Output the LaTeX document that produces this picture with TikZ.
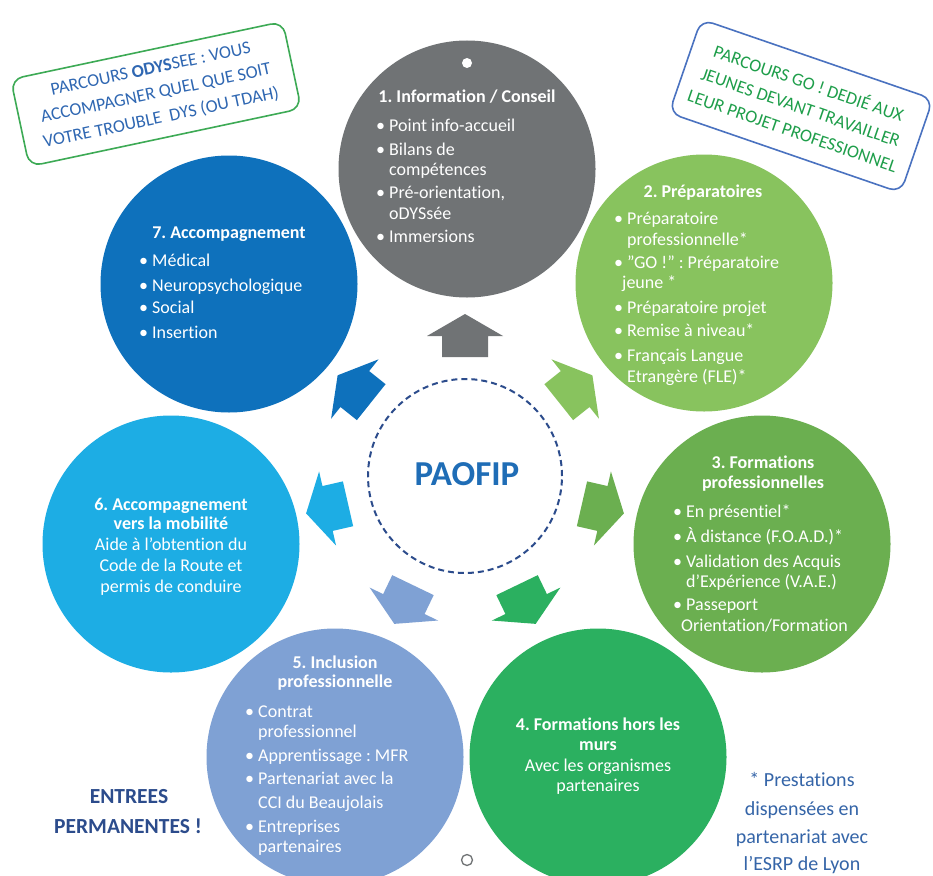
\documentclass[tikz,border=0pt]{standalone}
\usepackage{fontspec}
\setmainfont{Carlito}[Ligatures=NoCommon]
\definecolor{cgrey}{HTML}{707375}
\definecolor{cgreenl}{HTML}{88C35E}
\definecolor{cgreend}{HTML}{6BAF50}
\definecolor{cgreen}{HTML}{2BB060}
\definecolor{clav}{HTML}{7FA1D4}
\definecolor{cblue}{HTML}{1DADE4}
\definecolor{cblued}{HTML}{0E71BC}
\definecolor{navy}{HTML}{2C4C8C}
\definecolor{paoblue}{HTML}{1F6DB6}
\definecolor{boxgreen}{HTML}{3DAA55}
\definecolor{boxblue}{HTML}{4A72C0}
\definecolor{txtblue}{HTML}{2F67B2}
\definecolor{txtgreen}{HTML}{1E9E4A}
\definecolor{noteblue}{HTML}{3565A8}
\newcommand\bu{\llap{\textbullet\hspace{4pt}}}
\frenchspacing
\begin{document}
\begin{tikzpicture}[x=1pt,y=-1pt,
  bub/.style={circle,inner sep=0pt,minimum size=257pt},
  tl/.style={anchor=base west,inner sep=0pt,text=white,font=\fontsize{18}{21}\selectfont},
  th/.style={anchor=base,inner sep=0pt,text=white,font=\fontsize{18}{21}\selectfont\bfseries},
  tc/.style={anchor=base,inner sep=0pt,text=white,font=\fontsize{18}{21}\selectfont},
  callout/.style={rounded corners=12pt,line width=1.6pt,inner sep=0pt,align=center,font=\fontsize{18}{25}\selectfont},
  side/.style={anchor=base,inner sep=0pt,font=\fontsize{20}{24}\selectfont}]
\path[use as bounding box,clip] (0,0) rectangle (933,875);
\fill[white] (0,0) rectangle (933,875);

% circles
\node[bub,fill=cgrey]   (c1) at (467,169) {};
\node[bub,fill=cgreenl] (c2) at (704,283) {};
\node[bub,fill=cgreend] (c3) at (762,544) {};
\node[bub,fill=cgreen]  (c4) at (598,757) {};
\node[bub,fill=clav]    (c5) at (335,757) {};
\node[bub,fill=cblue]   (c6) at (171,544) {};
\node[bub,fill=cblued]  (c7) at (229,284) {};

% handles
\node[circle,fill=white,inner sep=0pt,minimum size=10pt] (h1) at (467,63) {};
\node[circle,draw=cgrey,line width=1.3pt,fill=white,inner sep=0pt,minimum size=11pt] (h2) at (467,860) {};

% central dashed circle
\node[circle,draw=navy,line width=2pt,dash pattern=on 6pt off 4pt,inner sep=0pt,minimum size=194pt] (ctr) at (465,476) {};
\node[anchor=base,inner sep=0pt,text=paoblue,font=\fontsize{35}{40}\selectfont\bfseries] (pao) at (467,485) {PAOFIP};

% arrows
\foreach \a/\c in {90/cgrey,38.6/cgreenl,-12.9/cgreend,-64.3/cgreen,-115.7/clav,192.9/cblue,141.4/cblued}{
  \fill[\c,shift={(465,477)},rotate=\a] (120,-23) -- (141,-23) -- (141,-38) -- (163,0) -- (141,38) -- (141,23) -- (120,23) -- cycle;
}

% circle 1
\node[th] (t1) at (467,102) {1. Information / Conseil};
\node[tl] (t1a) at (389,131) {\bu Point info-accueil};
\node[tl] (t1b) at (389,155) {\bu Bilans de};
\node[tl] (t1c) at (389,175) {compétences};
\node[tl] (t1d) at (389,198) {\bu Pré-orientation,};
\node[tl] (t1e) at (389,219) {oDYSsée};
\node[tl] (t1f) at (389,242) {\bu Immersions};

% circle 2
\node[th] (t2) at (703,197) {2. Préparatoires};
\node[tl] (t2a) at (627,224) {\bu Préparatoire};
\node[tl] (t2b) at (627,245) {professionnelle*};
\node[tl] (t2c) at (627,268) {\bu "GO !" : Préparatoire};
\node[tl] (t2d) at (622,288) {jeune *};
\node[tl] (t2e) at (627,313) {\bu Préparatoire projet};
\node[tl] (t2f) at (627,336) {\bu Remise à niveau*};
\node[tl] (t2g) at (627,361) {\bu Français Langue};
\node[tl] (t2h) at (627,382) {Etrangère (FLE)*};

% circle 3
\node[th] (t3) at (763,468) {3. Formations};
\node[th] (t3x) at (763,488) {professionnelles};
\node[tl] (t3a) at (686,517) {\bu En présentiel*};
\node[tl] (t3b) at (686,542) {\bu À distance (F.O.A.D.)*};
\node[tl] (t3c) at (686,567) {\bu Validation des Acquis};
\node[tl] (t3d) at (686,587) {d’Expérience (V.A.E.)};
\node[tl] (t3e) at (686,610) {\bu Passeport};
\node[tl] (t3f) at (681,631) {Orientation/Formation};

% circle 4
\node[th] (t4) at (598,730) {4. Formations hors les};
\node[th] (t4x) at (598,750) {murs};
\node[tc] (t4a) at (598,771) {Avec les organismes};
\node[tc] (t4b) at (598,791) {partenaires};

% circle 5
\node[th] (t5) at (335,668) {5. Inclusion};
\node[th] (t5x) at (335,687) {professionnelle};
\node[tl] (t5a) at (258,717) {\bu Contrat};
\node[tl] (t5b) at (258,737) {professionnel};
\node[tl] (t5c) at (258,761) {\bu Apprentissage : MFR};
\node[tl] (t5d) at (258,784) {\bu Partenariat avec la};
\node[tl] (t5e) at (258,808) {CCI du Beaujolais};
\node[tl] (t5f) at (258,832) {\bu Entreprises};
\node[tl] (t5g) at (258,852) {partenaires};

% circle 6
\node[th] (t6) at (171,510) {6. Accompagnement};
\node[th] (t6x) at (171,529) {vers la mobilité};
\node[tc] (t6a) at (171,550) {Aide à l’obtention du};
\node[tc] (t6b) at (171,571) {Code de la Route et};
\node[tc] (t6c) at (171,592) {permis de conduire};

% circle 7
\node[th] (t7) at (229,238) {7. Accompagnement};
\node[tl] (t7a) at (152,266) {\bu Médical};
\node[tl] (t7b) at (152,291) {\bu Neuropsychologique};
\node[tl] (t7c) at (152,313) {\bu Social};
\node[tl] (t7d) at (152,338) {\bu Insertion};

% callouts
\node[callout,draw=boxgreen,text=txtblue,rotate=12,minimum width=278pt,minimum height=89pt] (odb) at (156,94)
  {PARCOURS \textbf{ODYS}SEE : VOUS\\ACCOMPAGNER QUEL QUE SOIT\\VOTRE TROUBLE\ \ DYS (OU TDAH)};
\node[callout,draw=boxblue,text=txtgreen,rotate=-19,minimum width=245pt,minimum height=99pt] (gob) at (801,106)
  {PARCOURS GO ! DEDIÉ AUX\\JEUNES DEVANT TRAVAILLER\\LEUR PROJET PROFESSIONNEL};

% side texts
\node[side,text=navy,font=\fontsize{21.5}{24}\selectfont\bfseries] (ent1) at (129,803) {ENTREES};
\node[side,text=navy,font=\fontsize{21.5}{24}\selectfont\bfseries] (ent2) at (128,833) {PERMANENTES !};
\node[side,text=noteblue] (n1) at (802,786) {* Prestations};
\node[side,text=noteblue] (n2) at (802,815) {dispensées en};
\node[side,text=noteblue] (n3) at (802,843) {partenariat avec};
\node[side,text=noteblue] (n4) at (802,870) {l’ESRP de Lyon};
\end{tikzpicture}
\end{document}
